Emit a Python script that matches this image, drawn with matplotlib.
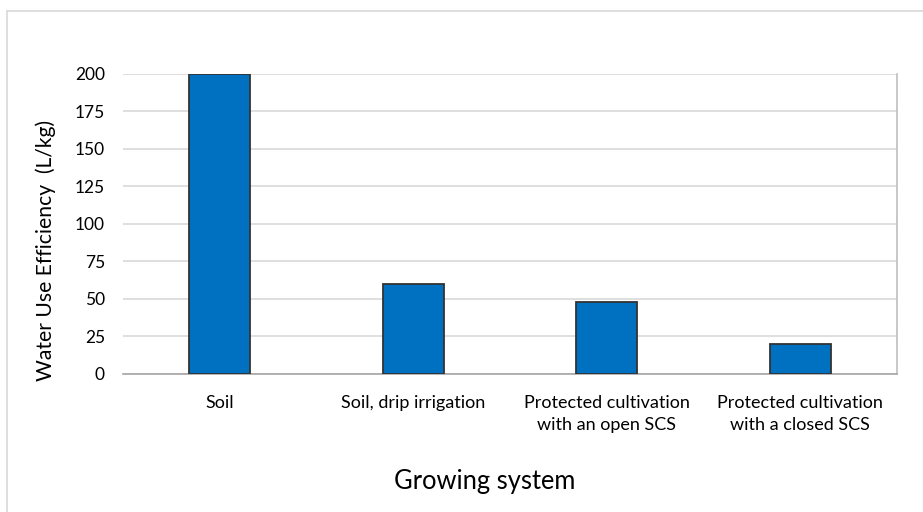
import matplotlib
matplotlib.use("Agg")
import matplotlib.pyplot as plt
from matplotlib.lines import Line2D

plt.rcParams['font.family'] = ['Lato', 'DejaVu Sans']

categories = ["Soil", "Soil, drip irrigation",
              "Protected cultivation\nwith an open SCS",
              "Protected cultivation\nwith a closed SCS"]
values = [200, 60, 48, 20]
yticks = [0, 25, 50, 75, 100, 125, 150, 175, 200]

W, H = 923, 512
fig = plt.figure(figsize=(W/100, H/100), dpi=100)
ax = fig.add_axes([123/W, 1-374/H, (897-123)/W, (374-73.5)/H])

x = range(len(categories))
ax.bar(x, values, width=0.315, color="#0070C0", edgecolor="#333333", linewidth=1.3, zorder=3)
ax.set_xlim(-0.5, len(categories)-0.5)
ax.set_ylim(0, 200)
ax.set_yticks(yticks)
ax.set_yticklabels([str(t) for t in yticks], fontsize=12.5, color="#000000")
ax.set_xticks(list(x))
ax.set_xticklabels(categories, fontsize=13, color="#000000", linespacing=1.45)
ax.tick_params(axis='both', length=0)
ax.tick_params(axis='y', pad=13)
ax.tick_params(axis='x', pad=15)
ax.grid(axis='y', color="#D9D9D9", linewidth=1.2, zorder=0)
for s in ['left', 'top']:
    ax.spines[s].set_visible(False)
ax.spines['right'].set_color("#BFBFBF")
ax.spines['right'].set_linewidth(1.2)
ax.spines['bottom'].set_color("#A6A6A6")
ax.spines['bottom'].set_linewidth(1.2)

fig.text(46/W, 1-250/H, "Water Use Efficiency  (L/kg)", rotation=90, fontsize=15.2,
         ha='center', va='center')
fig.text(485/W, 1-482/H, "Growing system", fontsize=18.4, ha='center', va='center')

# chart area border (left and top visible)
fig.add_artist(Line2D([7/W, 7/W], [0, 1-11/H], transform=fig.transFigure, color="#D9D9D9", linewidth=1.2))
fig.add_artist(Line2D([7/W, 1], [1-11/H, 1-11/H], transform=fig.transFigure, color="#D9D9D9", linewidth=1.2))

fig.savefig("out.png", dpi=100)
